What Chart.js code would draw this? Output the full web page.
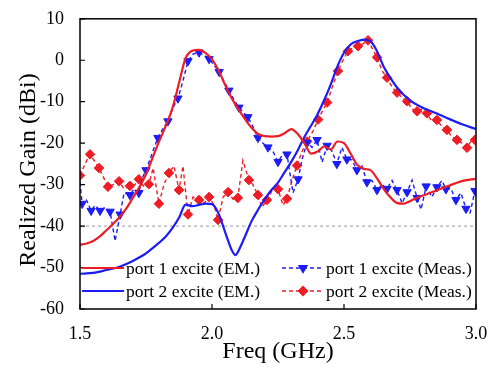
<!DOCTYPE html>
<html>
<head>
<meta charset="utf-8">
<script src="https://cdn.jsdelivr.net/npm/chart.js@4.4.0/dist/chart.umd.min.js"></script>
<style>
  html, body { margin: 0; padding: 0; background: #fff; }
</style>
</head>
<body>
<canvas id="myChart" width="495" height="368"></canvas>
<script>
// port 1 excite, EM simulation
const p1EmFreq = [1.500, 1.525, 1.550, 1.575, 1.600, 1.625, 1.650, 1.675, 1.700, 1.725, 1.750, 1.775, 1.800, 1.825, 1.850, 1.875, 1.900, 1.925, 1.950, 1.975, 2.000, 2.025, 2.050, 2.075, 2.100, 2.125, 2.150, 2.175, 2.200, 2.225, 2.250, 2.275, 2.300, 2.325, 2.350, 2.375, 2.400, 2.425, 2.450, 2.475, 2.500, 2.525, 2.550, 2.575, 2.600, 2.625, 2.650, 2.675, 2.700, 2.725, 2.750, 2.775, 2.800, 2.850, 2.900, 2.950, 3.000];
const p1EmGain = [-44.5, -44.2, -43.6, -42.5, -41.0, -39.5, -37.8, -35.8, -33.2, -30.6, -27.5, -23.5, -19.5, -15.8, -11.6, -5.5, 0.5, 2.3, 2.5, 1.8, 0.2, -2.5, -6.0, -9.2, -11.8, -14.2, -16.3, -17.8, -18.3, -18.4, -18.3, -17.6, -16.6, -17.8, -20.0, -22.5, -22.0, -20.8, -21.5, -19.6, -20.0, -22.5, -25.2, -26.2, -26.5, -28.5, -31.0, -33.0, -34.4, -34.6, -34.0, -33.2, -32.6, -31.4, -30.2, -29.1, -28.6];

// port 2 excite, EM simulation
const p2EmFreq = [1.500, 1.550, 1.600, 1.650, 1.700, 1.750, 1.775, 1.800, 1.825, 1.850, 1.875, 1.900, 1.925, 1.950, 1.975, 2.000, 2.025, 2.050, 2.075, 2.090, 2.100, 2.125, 2.150, 2.175, 2.200, 2.225, 2.250, 2.275, 2.300, 2.325, 2.350, 2.375, 2.400, 2.425, 2.450, 2.475, 2.500, 2.525, 2.550, 2.575, 2.600, 2.625, 2.650, 2.675, 2.700, 2.750, 2.800, 2.850, 2.900, 2.950, 3.000];
const p2EmGain = [-51.5, -51.3, -50.6, -49.8, -48.4, -46.6, -45.3, -44.0, -42.5, -40.5, -38.0, -34.8, -35.2, -34.9, -34.6, -34.7, -37.0, -41.5, -45.8, -47.0, -46.0, -42.5, -38.8, -36.0, -33.5, -31.3, -29.5, -27.0, -24.5, -21.7, -18.5, -15.8, -13.0, -9.6, -5.8, -1.5, 1.8, 3.8, 4.6, 5.0, 4.6, 2.2, -1.5, -4.2, -6.5, -9.7, -11.5, -12.8, -14.2, -15.5, -16.6];

// port 1 excite, measured
const p1MeasFreq = [1.500, 1.508, 1.523, 1.542, 1.557, 1.576, 1.595, 1.614, 1.633, 1.652, 1.667, 1.689, 1.705, 1.723, 1.735, 1.750, 1.773, 1.795, 1.814, 1.833, 1.852, 1.871, 1.890, 1.909, 1.928, 1.951, 1.970, 1.989, 2.008, 2.027, 2.045, 2.064, 2.083, 2.102, 2.117, 2.136, 2.155, 2.174, 2.193, 2.212, 2.231, 2.250, 2.265, 2.284, 2.307, 2.326, 2.341, 2.360, 2.379, 2.398, 2.417, 2.436, 2.455, 2.473, 2.492, 2.511, 2.530, 2.549, 2.568, 2.587, 2.606, 2.625, 2.644, 2.663, 2.682, 2.701, 2.720, 2.739, 2.758, 2.777, 2.792, 2.811, 2.833, 2.852, 2.871, 2.886, 2.905, 2.924, 2.943, 2.962, 2.977, 2.996];
const p1MeasGain = [-29.4, -34.6, -33.5, -36.3, -35.0, -36.3, -35.5, -36.5, -43.6, -37.2, -32.0, -32.5, -31.0, -32.0, -28.5, -26.5, -22.5, -18.7, -16.5, -14.7, -11.5, -9.2, -5.0, -0.2, 1.5, 1.9, 1.2, 0.3, -1.2, -2.8, -5.0, -7.3, -9.5, -11.4, -12.5, -13.7, -16.0, -18.7, -20.0, -21.0, -22.0, -24.5, -23.0, -22.7, -32.0, -28.7, -24.0, -19.9, -21.0, -19.2, -24.6, -20.6, -22.0, -25.0, -21.0, -23.9, -24.0, -26.5, -25.5, -29.4, -29.0, -31.3, -30.0, -31.0, -29.0, -31.3, -34.5, -31.8, -28.9, -33.2, -36.0, -30.4, -33.0, -30.6, -29.0, -31.1, -31.0, -33.7, -32.0, -35.8, -37.0, -31.5];

// port 2 excite, measured
const p2MeasFreq = [1.500, 1.519, 1.538, 1.557, 1.572, 1.591, 1.606, 1.625, 1.648, 1.667, 1.689, 1.708, 1.723, 1.742, 1.761, 1.777, 1.799, 1.818, 1.837, 1.856, 1.875, 1.890, 1.909, 1.928, 1.951, 1.970, 1.989, 2.008, 2.023, 2.042, 2.061, 2.080, 2.098, 2.117, 2.140, 2.155, 2.174, 2.189, 2.208, 2.227, 2.250, 2.269, 2.284, 2.303, 2.322, 2.341, 2.360, 2.383, 2.402, 2.420, 2.436, 2.458, 2.477, 2.496, 2.515, 2.534, 2.553, 2.572, 2.591, 2.606, 2.625, 2.644, 2.663, 2.682, 2.701, 2.720, 2.739, 2.758, 2.777, 2.795, 2.814, 2.833, 2.852, 2.871, 2.890, 2.909, 2.928, 2.947, 2.966, 2.981, 2.996];
const p2MeasGain = [-27.8, -25.0, -22.7, -24.5, -26.0, -28.5, -30.5, -30.0, -29.2, -31.0, -30.3, -30.0, -28.7, -30.5, -29.9, -26.0, -34.6, -30.0, -27.2, -25.5, -31.3, -25.5, -37.2, -33.0, -33.7, -34.5, -33.0, -35.0, -38.5, -33.0, -31.8, -33.5, -33.2, -24.2, -28.9, -30.0, -32.5, -35.5, -33.7, -31.5, -31.1, -35.0, -33.4, -29.0, -25.4, -22.0, -19.6, -17.0, -14.3, -12.0, -10.2, -6.0, -2.6, 0.0, 2.2, 3.0, 3.4, 4.0, 4.8, 3.0, 0.7, -2.5, -4.2, -6.5, -7.8, -9.0, -9.9, -11.8, -12.3, -11.8, -12.8, -14.8, -14.4, -16.0, -16.8, -18.5, -19.2, -20.0, -21.1, -19.5, -19.2];

const labels = ['port 1 excite (EM.)', 'port 2 excite (EM.)', 'port 1 excite (Meas.)', 'port 2 excite (Meas.)'];
const xTicks = [1.5, 2.0, 2.5, 3.0];
const yTicks = [10, 0, -10, -20, -30, -40, -50, -60];

const RED = '#ee1c24';
const BLUE = '#1c1cf5';
const FONT = '"Liberation Serif", "Times New Roman", serif';

function pts(xs, ys) {
    return xs.map((x, i) => ({ x: x, y: ys[i] }));
}

// markers only on every other measured point
function everyOther(parity, r) {
    return ctx => (ctx.dataIndex % 2 === parity ? r : 0);
}

const framePlugin = {
    id: 'frame',
    beforeDatasetsDraw(chart) {
        const { ctx, chartArea: a, scales: { y } } = chart;
        const yy = y.getPixelForValue(-40);
        ctx.save();
        ctx.strokeStyle = '#9a9a9a';
        ctx.lineWidth = 1;
        ctx.setLineDash([3, 3]);
        ctx.beginPath();
        ctx.moveTo(a.left, yy);
        ctx.lineTo(a.right, yy);
        ctx.stroke();
        ctx.restore();
    },
    afterDatasetsDraw(chart) {
        const { ctx, chartArea: a, scales: { x, y } } = chart;
        ctx.save();
        ctx.strokeStyle = '#000';
        ctx.lineWidth = 1.5;
        ctx.strokeRect(a.left, a.top, a.right - a.left, a.bottom - a.top);
        ctx.lineWidth = 1.2;
        ctx.beginPath();
        yTicks.forEach(v => {
            const py = y.getPixelForValue(v);
            ctx.moveTo(a.left, py);
            ctx.lineTo(a.left + 5, py);
        });
        xTicks.forEach(v => {
            const px = x.getPixelForValue(v);
            ctx.moveTo(px, a.bottom);
            ctx.lineTo(px, a.bottom - 5);
        });
        ctx.stroke();
        ctx.restore();
    },
    afterDraw(chart) {
        const ctx = chart.ctx;
        // y axis title
        ctx.save();
        ctx.translate(29, 170);
        ctx.rotate(-Math.PI / 2);
        ctx.fillStyle = '#000';
        ctx.font = '24px ' + FONT;
        ctx.textAlign = 'center';
        ctx.textBaseline = 'middle';
        ctx.fillText('Realized Gain (dBi)', 0, 0);
        ctx.restore();

        const items = [
            { ds: 0, x: 82, y: 268 },
            { ds: 1, x: 82, y: 291 },
            { ds: 2, x: 282, y: 268 },
            { ds: 3, x: 282, y: 291 }
        ];
        ctx.save();
        items.forEach(it => {
            const d = chart.data.datasets[it.ds];
            ctx.strokeStyle = d.borderColor;
            ctx.fillStyle = d.borderColor;
            ctx.lineWidth = d.borderWidth;
            ctx.setLineDash(d.borderDash || []);
            ctx.beginPath();
            ctx.moveTo(it.x, it.y);
            ctx.lineTo(it.x + 42, it.y);
            ctx.stroke();
            ctx.setLineDash([]);
            if (d.legendMarker) {
                Chart.helpers.drawPoint(ctx, {
                    pointStyle: d.pointStyle,
                    rotation: d.rotation || 0,
                    radius: 4.5,
                    borderWidth: 1
                }, it.x + 21, it.y);
            }
            ctx.fillStyle = '#000';
            ctx.font = '17.5px ' + FONT;
            ctx.textBaseline = 'middle';
            ctx.fillText(d.label, it.x + 44, it.y + 1);
        });
        ctx.restore();
    }
};

const ctx = document.getElementById('myChart').getContext('2d');

const myChart = new Chart(ctx, {
    type: 'line',
    data: {
        datasets: [
            {
                label: labels[0],
                data: pts(p1EmFreq, p1EmGain),
                borderColor: RED,
                borderWidth: 2.2,
                pointRadius: 0,
                cubicInterpolationMode: 'monotone'
            },
            {
                label: labels[1],
                data: pts(p2EmFreq, p2EmGain),
                borderColor: BLUE,
                borderWidth: 2.2,
                pointRadius: 0,
                cubicInterpolationMode: 'monotone'
            },
            {
                label: labels[2],
                data: pts(p1MeasFreq, p1MeasGain),
                borderColor: BLUE,
                backgroundColor: BLUE,
                borderWidth: 1.4,
                borderDash: [4, 3],
                pointStyle: 'triangle',
                rotation: 180,
                legendMarker: true,
                pointRadius: everyOther(1, 4.8),
                pointBorderWidth: 1,
                tension: 0
            },
            {
                label: labels[3],
                data: pts(p2MeasFreq, p2MeasGain),
                borderColor: RED,
                backgroundColor: RED,
                borderWidth: 1.4,
                borderDash: [4, 3],
                pointStyle: 'rectRot',
                legendMarker: true,
                pointRadius: everyOther(0, 4.8),
                pointBorderWidth: 1,
                tension: 0
            }
        ]
    },
    options: {
        responsive: false,
        animation: false,
        devicePixelRatio: 1,
        layout: { padding: { top: 14, right: 19, left: 0, bottom: 0 } },
        plugins: {
            legend: { display: false },
            tooltip: { enabled: false }
        },
        scales: {
            x: {
                type: 'linear',
                min: 1.5,
                max: 3.0,
                afterFit: s => { s.height = 59; },
                afterBuildTicks: s => { s.ticks = xTicks.map(v => ({ value: v })); },
                grid: { display: false },
                border: { display: false },
                ticks: {
                    color: '#000',
                    padding: 6,
                    font: { family: FONT, size: 18 },
                    callback: v => v.toFixed(1)
                },
                title: {
                    display: true,
                    text: 'Freq (GHz)',
                    color: '#000',
                    font: { family: FONT, size: 24 },
                    padding: { top: 0, bottom: 2 }
                }
            },
            y: {
                min: -60,
                max: 10,
                afterFit: s => { s.width = 80; },
                afterBuildTicks: s => { s.ticks = yTicks.map(v => ({ value: v })); },
                grid: { display: false },
                border: { display: false },
                ticks: {
                    color: '#000',
                    padding: 8,
                    font: { family: FONT, size: 18 }
                }
            }
        }
    },
    plugins: [framePlugin]
});
</script>
</body>
</html>
